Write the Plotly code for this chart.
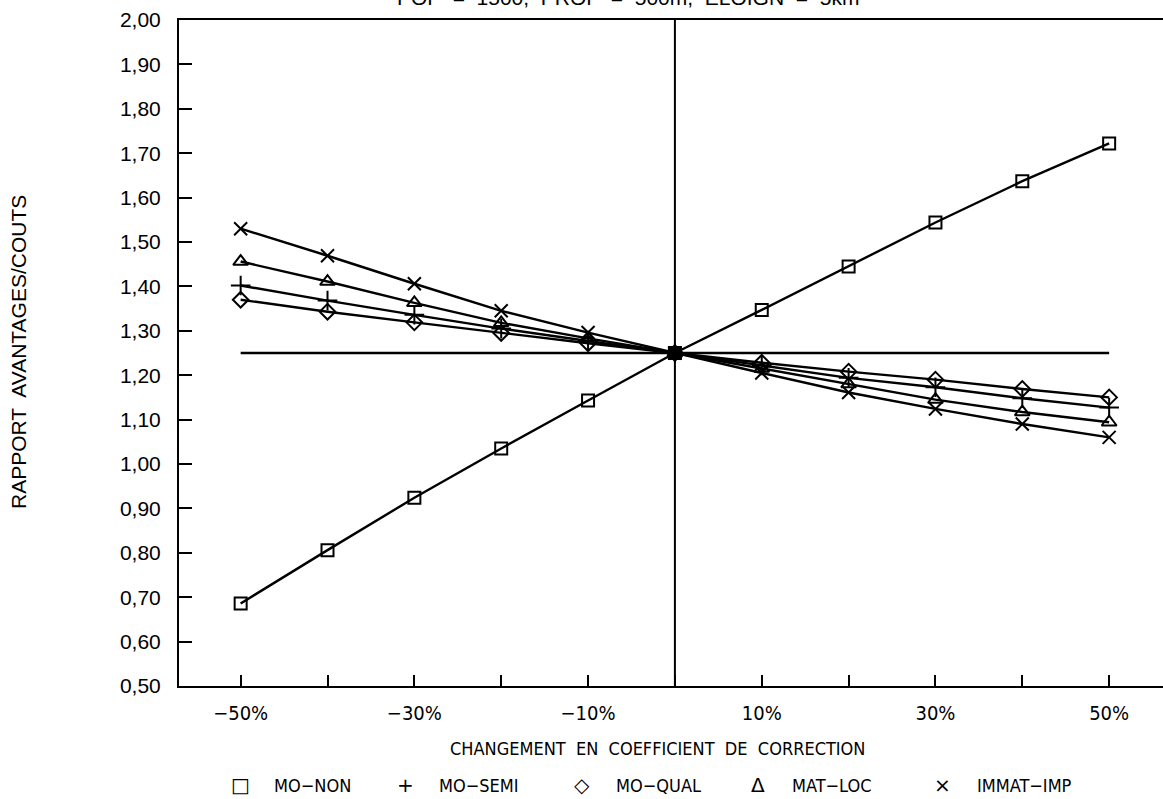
import plotly.graph_objects as go

# Changement en coefficient de correction (%)
changement = [-50, -40, -30, -20, -10, 0, 10, 20, 30, 40, 50]

# Rapport avantages/couts par scenario
mo_non = [0.686, 0.806, 0.924, 1.035, 1.143, 1.25, 1.347, 1.445, 1.544, 1.637, 1.722]
mo_semi = [1.402, 1.368, 1.336, 1.305, 1.277, 1.25, 1.222, 1.194, 1.173, 1.148, 1.127]
mo_qual = [1.370, 1.343, 1.319, 1.295, 1.272, 1.25, 1.228, 1.208, 1.190, 1.169, 1.150]
mat_loc = [1.456, 1.411, 1.363, 1.318, 1.283, 1.25, 1.215, 1.180, 1.145, 1.117, 1.094]
immat_imp = [1.530, 1.469, 1.406, 1.345, 1.296, 1.25, 1.205, 1.161, 1.124, 1.090, 1.060]

base_ratio = 1.25

y_ticks = [0.5, 0.6, 0.7, 0.8, 0.9, 1.0, 1.1, 1.2, 1.3, 1.4, 1.5, 1.6, 1.7, 1.8, 1.9, 2.0]
y_ticktext = [f"{v:.2f}".replace(".", ",") for v in y_ticks]
x_ticks = [-50, -40, -30, -20, -10, 0, 10, 20, 30, 40, 50]
x_ticktext = ["\u221250%", "", "\u221230%", "", "\u221210%", "", "10%", "", "30%", "", "50%"]

legend_symbols = ["\u25a1", "+", "\u25c7", "\u0394", "\u00d7"]
legend_names = ["MO\u2212NON", "MO\u2212SEMI", "MO\u2212QUAL", "MAT\u2212LOC", "IMMAT\u2212IMP"]

PLOT_L, PLOT_W = 179, 984
PLOT_T, PLOT_H = 20, 666

def px_x(px):
    return (px - PLOT_L) / PLOT_W

def px_y(py):
    return 1 - (py - PLOT_T) / PLOT_H

fig = go.Figure()

# reference line at the base ratio
fig.add_trace(go.Scatter(x=[changement[0], changement[-1]], y=[base_ratio, base_ratio],
                         mode="lines", line=dict(color="black", width=2.4), showlegend=False))

series = [
    (mo_semi, "cross-thin", 14),
    (mo_qual, "diamond-open", 12),
    (mat_loc, "triangle-up-open", 13),
    (immat_imp, "x-thin", 13),
]
for vals, sym, size in series:
    fig.add_trace(go.Scatter(
        x=changement, y=vals, mode="lines+markers",
        line=dict(color="black", width=2.4),
        marker=dict(symbol=sym, size=size, color="black", line=dict(color="black", width=2)),
        showlegend=False))

sq_symbols = ["square" if c == 0 else "square-open" for c in changement]
fig.add_trace(go.Scatter(
    x=changement, y=mo_non, mode="lines+markers",
    line=dict(color="black", width=2.4),
    marker=dict(symbol=sq_symbols, size=12, color="black", line=dict(color="black", width=2)),
    showlegend=False))

# vertical line at zero change
fig.add_shape(type="line", x0=0, x1=0, y0=0.5, y1=2.0, xref="x", yref="y",
              line=dict(color="black", width=2))

fig.update_xaxes(
    range=[-57.1, 56.2], tickvals=x_ticks, ticktext=x_ticktext,
    ticks="inside", ticklen=11, tickwidth=2, tickcolor="black",
    showline=True, linecolor="black", linewidth=2, mirror=True,
    showgrid=False, zeroline=False, ticklabelstandoff=8,
    tickfont=dict(family="DejaVu Sans Condensed, DejaVu Sans", size=20, color="black"))
fig.update_yaxes(
    range=[0.5, 2.0], tickvals=y_ticks, ticktext=y_ticktext,
    ticks="inside", ticklen=13, tickwidth=2, tickcolor="black",
    showline=True, linecolor="black", linewidth=2,
    showgrid=False, zeroline=False, ticklabelstandoff=12,
    tickfont=dict(family="Liberation Sans, Arial", size=21, color="black"))

text_font = dict(family="DejaVu Sans Condensed, DejaVu Sans", size=18, color="black")
annotations = [
    dict(text="POP  =  1500,  PROF  =  500m,  ELOIGN  =  5km", x=px_x(628), y=px_y(-2),
         xref="paper", yref="paper", showarrow=False, xanchor="center", yanchor="middle",
         font=dict(family="Liberation Sans, Arial", size=21, color="black")),
    dict(text="RAPPORT  AVANTAGES/COUTS", x=px_x(18), y=px_y(352), textangle=-90,
         xref="paper", yref="paper", showarrow=False, xanchor="center", yanchor="middle",
         font=dict(family="Liberation Sans, Arial", size=21, color="black")),
    dict(text="CHANGEMENT  EN  COEFFICIENT  DE  CORRECTION", x=px_x(657), y=px_y(748),
         xref="paper", yref="paper", showarrow=False, xanchor="center", yanchor="middle",
         font=text_font),
]
symbol_px = [240, 405, 582, 758, 942]
name_px = [272, 437, 614, 790, 975]
for sx, nx, sym, name in zip(symbol_px, name_px, legend_symbols, legend_names):
    annotations.append(dict(text=sym, x=px_x(sx), y=px_y(785), xref="paper", yref="paper",
                            showarrow=False, xanchor="center", yanchor="middle",
                            font=dict(family="DejaVu Sans", size=20, color="black")))
    annotations.append(dict(text=name, x=px_x(nx), y=px_y(785), xref="paper", yref="paper",
                            showarrow=False, xanchor="left", yanchor="middle", font=text_font))

fig.update_layout(
    width=1163, height=799,
    margin=dict(l=PLOT_L, r=0, t=PLOT_T, b=799 - PLOT_T - PLOT_H),
    plot_bgcolor="white", paper_bgcolor="white",
    annotations=annotations,
)

fig.write_html("out.html")
